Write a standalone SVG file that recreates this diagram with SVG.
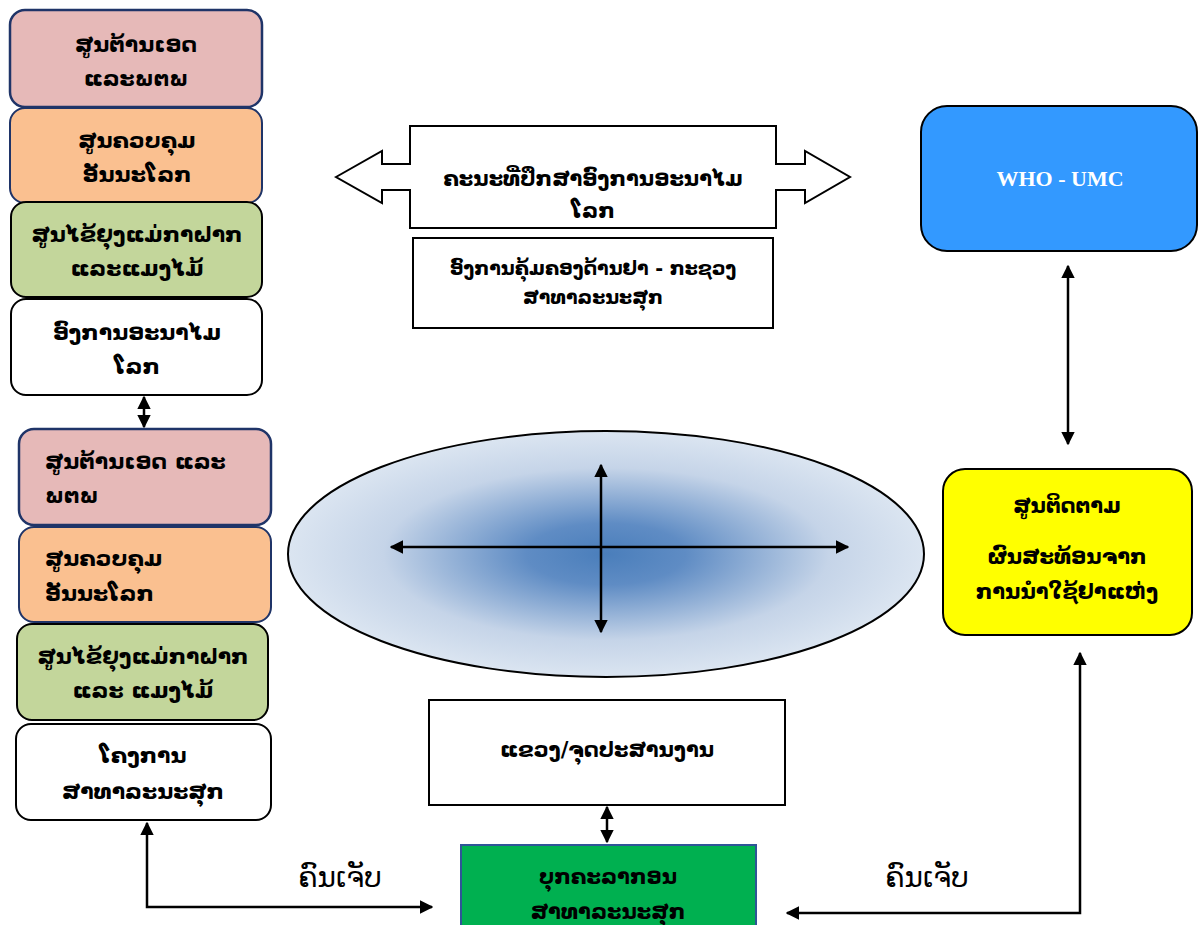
<svg xmlns="http://www.w3.org/2000/svg" width="1200" height="925" viewBox="0 0 1200 925">
  <defs>
    <style>
      .lao { font-family: "DejaVu Sans", "Noto Sans", sans-serif; font-weight: bold; fill: #000; }
      .mid { text-anchor: middle; }
      .plain { font-family: "DejaVu Sans", "Noto Sans", sans-serif; font-weight: normal; fill: #000; }
      .line { stroke: #000; stroke-width: 2.5; fill: none; }
      .pink { fill: #e6b9b8; stroke: #1f3468; stroke-width: 2.5; }
      .orange { fill: #fac090; stroke: #1f3468; stroke-width: 2; }
      .green { fill: #c3d69b; stroke: #000; stroke-width: 2; }
      .white { fill: #fff; stroke: #000; stroke-width: 2; }
      .box { fill: #fff; stroke: #000; stroke-width: 2; }
    </style>
    <marker id="ah" viewBox="0 0 10 10" refX="9" refY="5" markerWidth="5.5" markerHeight="5.5" orient="auto-start-reverse" markerUnits="strokeWidth">
      <path d="M0,0 L10,5 L0,10 z" fill="#000"/>
    </marker>
    <radialGradient id="glow" cx="0.5" cy="0.5" r="0.5">
      <stop offset="0" stop-color="#4a7ebb"/>
      <stop offset="0.25" stop-color="#5f8cc4"/>
      <stop offset="0.7" stop-color="#c5d4e8"/>
      <stop offset="1" stop-color="#dbe5f1"/>
    </radialGradient>
  </defs>

  <!-- left column, upper stack -->
  <g id="n-aids-1">
    <rect class="pink" x="10" y="10" width="252" height="97" rx="15"/>
    <text class="lao mid" font-size="22" x="136" y="52">ສູນຕ້ານເອດ</text>
    <text class="lao mid" font-size="22" x="136" y="86">ແລະພຕພ</text>
  </g>
  <g id="n-tb-1">
    <rect class="orange" x="10" y="108" width="252" height="95" rx="15"/>
    <text class="lao mid" font-size="22" x="137" y="148">ສູນຄວບຄຸມ</text>
    <text class="lao mid" font-size="22" x="137" y="182">ອັນນະໂລກ</text>
  </g>
  <g id="n-malaria-1">
    <rect class="green" x="11" y="202" width="251" height="95" rx="15"/>
    <text class="lao mid" font-size="22" x="137" y="242">ສູນໄຂ້ຍຸງແມ່ກາຝາກ</text>
    <text class="lao mid" font-size="22" x="137" y="276">ແລະແມງໄມ້</text>
  </g>
  <g id="n-who-lao">
    <rect class="white" x="11" y="299" width="251" height="96" rx="15"/>
    <text class="lao mid" font-size="22" x="137" y="340">ອົງການອະນາໄມ</text>
    <text class="lao mid" font-size="22" x="137" y="374">ໂລກ</text>
  </g>

  <!-- left column, lower stack -->
  <g id="n-aids-2">
    <rect class="pink" x="19" y="429" width="252" height="96" rx="15"/>
    <text class="lao" font-size="22" x="45" y="469">ສູນຕ້ານເອດ ແລະ</text>
    <text class="lao" font-size="22" x="45" y="503">ພຕພ</text>
  </g>
  <g id="n-tb-2">
    <rect class="orange" x="19" y="527" width="252" height="95" rx="15"/>
    <text class="lao" font-size="22" x="45" y="566">ສູນຄວບຄຸມ</text>
    <text class="lao" font-size="22" x="45" y="601">ອັນນະໂລກ</text>
  </g>
  <g id="n-malaria-2">
    <rect class="green" x="17" y="624" width="251" height="96" rx="15"/>
    <text class="lao mid" font-size="22" x="143" y="664">ສູນໄຂ້ຍຸງແມ່ກາຝາກ</text>
    <text class="lao mid" font-size="22" x="143" y="698">ແລະ ແມງໄມ້</text>
  </g>
  <g id="n-program">
    <rect class="white" x="16" y="724" width="255" height="96" rx="15"/>
    <text class="lao mid" font-size="22" x="143" y="763">ໂຄງການ</text>
    <text class="lao mid" font-size="22" x="143" y="799">ສາທາລະນະສຸກ</text>
  </g>

  <!-- advisory committee: block double arrow -->
  <g id="n-committee">
    <polygon class="box" points="336,177 382,151 382,164 410,164 410,126 776,126 776,164 805,164 805,151 850,177 805,203 805,190 776,190 776,228 410,228 410,190 382,190 382,203"/>
    <text class="lao mid" font-size="21" x="593" y="186">ຄະນະທີ່ປຶກສາອົງການອະນາໄມ</text>
    <text class="lao mid" font-size="21" x="593" y="218">ໂລກ</text>
  </g>
  <g id="n-fdd">
    <rect class="box" x="413" y="238" width="360" height="90"/>
    <text class="lao mid" font-size="19" x="593" y="275">ອົງການຄຸ້ມຄອງດ້ານຢາ - ກະຊວງ</text>
    <text class="lao mid" font-size="19" x="593" y="304">ສາທາລະນະສຸກ</text>
  </g>

  <!-- WHO-UMC -->
  <g id="n-umc">
    <rect x="921" y="106" width="276" height="145" rx="26" fill="#3399ff" stroke="#000" stroke-width="2"/>
    <text x="1060" y="186" text-anchor="middle" font-family="Liberation Serif, serif" font-weight="bold" font-size="22" fill="#fff">WHO - UMC</text>
  </g>

  <!-- national pharmacovigilance centre -->
  <g id="n-centre">
    <rect x="943" y="469" width="249" height="166" rx="22" fill="#ffff00" stroke="#000" stroke-width="2"/>
    <text class="lao mid" font-size="21" x="1067" y="513">ສູນຕິດຕາມ</text>
    <text class="lao mid" font-size="21" x="1067" y="564">ຜົນສະທ້ອນຈາກ</text>
    <text class="lao mid" font-size="21" x="1067" y="599">ການນຳໃຊ້ຢາແຫ່ງ</text>
  </g>

  <!-- central hub ellipse -->
  <g id="n-hub">
    <ellipse cx="606" cy="554" rx="318" ry="123" fill="url(#glow)" stroke="#000" stroke-width="2"/>
  </g>

  <!-- provincial focal point -->
  <g id="n-province">
    <rect class="box" x="429" y="700" width="356" height="105"/>
    <text class="lao mid" font-size="21" x="607" y="757">ແຂວງ/ຈຸດປະສານງານ</text>
  </g>

  <!-- health personnel -->
  <g id="n-staff">
    <rect x="461" y="845" width="295" height="90" fill="#00b050" stroke="#2f5597" stroke-width="2"/>
    <text class="lao mid" font-size="21" x="608" y="884">ບຸກຄະລາກອນ</text>
    <text class="lao mid" font-size="21" x="608" y="919">ສາທາລະນະສຸກ</text>
  </g>

  <!-- connectors -->
  <g id="connectors">
    <line class="line" x1="144" y1="397" x2="144" y2="427" marker-start="url(#ah)" marker-end="url(#ah)"/>
    <line class="line" x1="1068" y1="266" x2="1068" y2="444" marker-start="url(#ah)" marker-end="url(#ah)"/>
    <line class="line" x1="391" y1="547" x2="848" y2="547" marker-start="url(#ah)" marker-end="url(#ah)"/>
    <line class="line" x1="601" y1="465" x2="601" y2="632" marker-start="url(#ah)" marker-end="url(#ah)"/>
    <line class="line" x1="607" y1="807" x2="607" y2="842" marker-start="url(#ah)" marker-end="url(#ah)"/>
    <polyline class="line" points="147,823 147,907 432,907" marker-start="url(#ah)" marker-end="url(#ah)"/>
    <polyline class="line" points="1080,653 1080,913 787,913" marker-start="url(#ah)" marker-end="url(#ah)"/>
    <text class="plain mid" font-size="28" x="340" y="887">ຄົນເຈັບ</text>
    <text class="plain mid" font-size="28" x="927" y="887">ຄົນເຈັບ</text>
  </g>
</svg>
